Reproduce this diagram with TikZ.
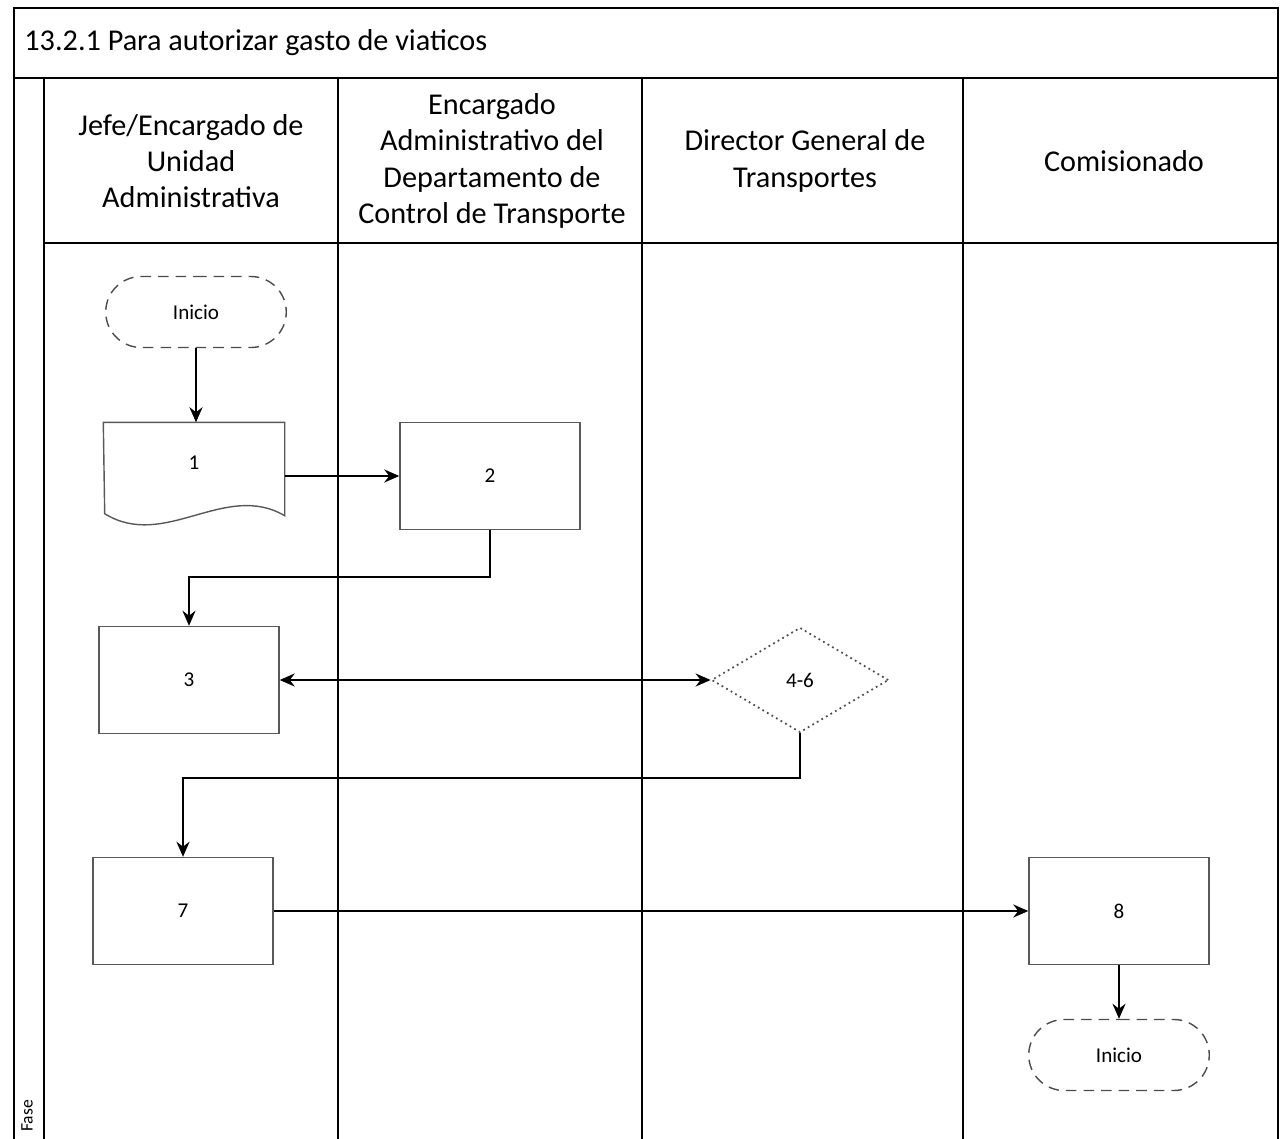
\documentclass[tikz,border=0pt]{standalone}
\usepackage{fontspec}
\setmainfont{Carlito}
\usetikzlibrary{positioning, arrows.meta, shapes.geometric, shapes.misc}

\tikzset{
  lane/.style={line width=0.6pt},
  head/.style={align=center, font=\fontsize{8.6}{10.3}\selectfont},
  small/.style={font=\fontsize{6}{7}\selectfont},
  proc/.style={small, draw=black!65, line width=0.4pt, minimum width=18mm, minimum height=10.7mm},
  term/.style={small, rounded rectangle, draw=black!70, densely dashed, line width=0.4pt, minimum width=20.4mm, minimum height=7.1mm},
  decide/.style={small, diamond, aspect=1.7, inner sep=0pt, draw=black!70, densely dotted, line width=0.5pt, minimum width=17.7mm, minimum height=10.5mm},
  docline/.style={draw=black!65, line width=0.4pt},
  flow/.style={-{Stealth[length=1.5mm,width=1.3mm]}, line width=0.6pt},
}

\begin{document}
\begin{tikzpicture}[x=0.1mm, y=-0.1mm]
	\useasboundingbox (0,0) rectangle (1280,1139);
	% Marco y carriles
	\draw[lane] (14,1139) -- (14,8) -- (1278,8) -- (1278,1139);
	\draw[lane] (14,78) -- (1278,78);
	\draw[lane] (44,78) -- (44,1139);
	\draw[lane] (44,243) -- (1278,243);
	\foreach \x in {338,642,963} {
		\draw[lane] (\x,78) -- (\x,1139);
	}
	
	% Titulo y encabezados
	\node[anchor=west, head] (titulo) at (12,43) {13.2.1 Para autorizar gasto de viaticos};
	\node[head] (jefe) at (191,161) {Jefe/Encargado de\\Unidad\\Administrativa};
	\node[head] (encargado) at (492,161) {Encargado\\Administrativo del\\Departamento de\\Control de Transporte};
	\node[head] (director) at (805,161) {Director General de\\Transportes};
	\node[head] (comisionado) at (1124,161) {Comisionado};
	\node[rotate=90, font=\fontsize{5}{6}\selectfont] (fase) at (27,1116) {Fase};
	
	% Pasos
	\node[term] (inicio) at (196,312) {Inicio};
	\node[small, minimum width=18mm, minimum height=8mm] (doc1) at (194,463) {1};
	\draw[docline] (doc1.north west) -- (doc1.north east) -- (doc1.south east) -- ++(0,12)
		.. controls +(-60,-35) and +(60,37) .. ++(-180,-2) -- cycle;
	\node[proc] (paso2) at (490,476) {2};
	\node[proc] (paso3) at (189,680) {3};
	\node[decide] (paso4) at (800,680) {4-6};
	\node[proc] (paso7) at (183,911) {7};
	\node[proc] (paso8) at (1119,911) {8};
	\node[term] (fin) at (1119,1055) {Inicio};
	
	% Flujo
	\draw[flow] (inicio.south) -- (inicio.south |- doc1.north);
	\draw[flow] (doc1.east |- paso2.west) -- (paso2.west);
	\draw[flow] (paso2.south) -- ++(0,47) -| (paso3.north);
	\draw[flow, {Stealth[length=1.5mm,width=1.3mm]}-{Stealth[length=1.5mm,width=1.3mm]}] (paso3.east) -- (paso4.west);
	\draw[flow] (paso4.south) -- ++(0,45) -| (paso7.north);
	\draw[flow] (paso7.east) -- (paso8.west);
	\draw[flow] (paso8.south) -- (fin.north);
\end{tikzpicture}
\end{document}
